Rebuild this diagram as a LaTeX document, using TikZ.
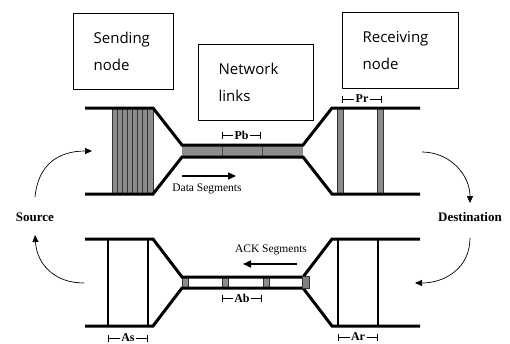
\documentclass[tikz,border=0pt]{standalone}
\usepackage{fontspec}
\setmainfont{Open Sans}
\newfontfamily\tms{Liberation Serif}
\usetikzlibrary{arrows.meta, positioning, calc}

\begin{document}
\begin{tikzpicture}[
    x=1pt, y=-1pt,
    box/.style={draw, line width=1.3pt, anchor=north west, align=left, minimum height=76pt, inner xsep=20pt, inner ysep=0pt, font=\fontsize{15}{27}\selectfont},
    pipe/.style={line width=3pt, line join=miter},
    buf/.style={fill=black!45, draw=black!80, line width=0.8pt},
    slot/.style={line width=1.3pt},
    dim/.style={{Bar[width=7pt]}-{Bar[width=7pt]}, line width=0.8pt},
    dimlbl/.style={fill=white, inner xsep=1.5pt, inner ysep=0.5pt, font=\tms\bfseries\fontsize{12}{12}\selectfont},
    seg/.style={-{Triangle[length=8pt, width=7pt]}, line width=1.5pt},
    seglbl/.style={font=\tms\fontsize{11.5}{11.5}\selectfont},
    loop/.style={-{Triangle[length=7pt, width=6pt]}, line width=0.7pt},
    hostlbl/.style={font=\tms\bfseries\fontsize{13}{13}\selectfont}
]
    \useasboundingbox (0,0) rectangle (510,343);

    % Node boxes
    \node[box, text width=60pt] (sender) at (73,13) {Sending\\node};
    \node[box, text width=75pt] (links) at (198,44) {Network\\links};
    \node[box, text width=76pt] (receiver) at (342,12) {Receiving\\node};

    % Data pipe (top)
    \fill[black!45] (182,145) rectangle (303,157);
    \draw[black!70, line width=0.8pt] (222,145) -- (222,157) (262,145) -- (262,157);
    \fill[black!45] (112,108) rectangle (153,194);
    \foreach \k in {0,...,8}
        \draw[black!80, line width=0.8pt] (112+5.125*\k,108) -- (112+5.125*\k,194);
    \draw[buf] (337,108) rectangle (343,194);
    \draw[buf] (377,108) rectangle (383,194);
    \draw[pipe] (85,108) -- (153,108) -- (182,145) -- (303,145) -- (332,108) -- (420,108);
    \draw[pipe] (85,194) -- (153,194) -- (182,157) -- (303,157) -- (332,194) -- (420,194);

    % ACK pipe (bottom)
    \foreach \x in {182,222,263}
        \draw[buf] (\x,277) rectangle (\x+6,288);
    \draw[slot] (108,239) -- (108,326) (148,239) -- (148,326);
    \draw[slot] (338,239) -- (338,326) (378,239) -- (378,326);
    \draw[pipe] (85,239) -- (153,239) -- (182,277) -- (303,277) -- (332,239) -- (420,239);
    \draw[pipe] (85,326) -- (153,326) -- (182,288) -- (303,288) -- (332,326) -- (420,326);
    \draw[buf, fill=black!50] (302,276) rectangle (309,288);

    % Sizes
    \draw[dim] (342,99) -- node[dimlbl] {Pr} (382,99);
    \draw[dim] (222,135) -- node[dimlbl] {Pb} (261,135);
    \draw[dim] (222,298) -- node[dimlbl] {Ab} (262,298);
    \draw[dim] (108,338) -- node[dimlbl] {As} (148,338);
    \draw[dim] (338,337) -- node[dimlbl] {Ar} (378,337);

    % Segment flow
    \coordinate (dataA) at (182,176);
    \coordinate (dataB) at (236,176);
    \draw[seg] (dataA) -- (dataB);
    \node[seglbl] (datalbl) at (207,189) {Data Segments};
    \coordinate (ackA) at (297,264);
    \coordinate (ackB) at (243,264);
    \draw[seg] (ackA) -- (ackB);
    \node[seglbl] (acklbl) at (271,250) {ACK Segments};

    % Source and destination
    \node[hostlbl] (source) at (35,217) {Source};
    \node[hostlbl] (dest) at (470,217) {Destination};
    \coordinate (srcup) at (35,197);
    \coordinate (srcdown) at (35,235);
    \coordinate (sendin) at (92,151);
    \coordinate (ackout) at (84,283);
    \coordinate (recvout) at (422,152);
    \coordinate (destup) at (470,203);
    \coordinate (destdown) at (470,238);
    \coordinate (ackin) at (415,283);
    \draw[loop] (srcup) .. controls (38,165) and (58,151) .. (sendin);
    \draw[loop] (ackout) .. controls (55,283) and (37,265) .. (srcdown);
    \draw[loop] (recvout) .. controls (450,152) and (470,175) .. (destup);
    \draw[loop] (destdown) .. controls (470,268) and (445,283) .. (ackin);

\end{tikzpicture}
\end{document}
